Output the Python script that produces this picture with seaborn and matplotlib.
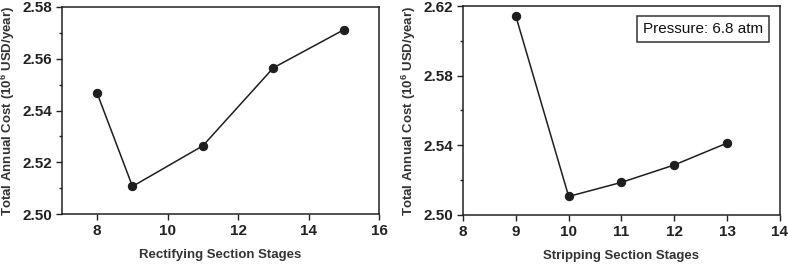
import numpy as np
import pandas as pd
import matplotlib
matplotlib.use('Agg')
import matplotlib.pyplot as plt
from matplotlib.ticker import MultipleLocator
import seaborn as sns

#-------------------------------------------------------
rect_stages=[8, 9, 11, 13, 15]
rect_tac=[2.5466, 2.5107, 2.5264, 2.5565, 2.5712]

strip_stages=[9, 10, 11, 12, 13]
strip_tac=[2.6142, 2.5106, 2.5187, 2.5287, 2.5413]

ylab='Total Annual Cost (10$^6$ USD/year)'
note='Pressure: 6.8 atm'

#-------------------------------------------------------
sns.set_theme(style='ticks')
plt.rcParams['font.family']=['Liberation Sans', 'DejaVu Sans']
plt.rcParams['mathtext.fontset']='custom'
plt.rcParams['mathtext.rm']='Liberation Sans:bold'
plt.rcParams['mathtext.default']='rm'

col='#1e1e1e'

def plt_panel(ax, x, y, xlab, xlim, xticks, ylim, yticks, yminor):
	df=pd.DataFrame({'x': x, 'y': y})
	sns.lineplot(data=df, x='x', y='y', ax=ax, color=col, lw=1.1,
		marker='o', markersize=6, markeredgecolor=col, markerfacecolor=col)
	ax.set_xlim(*xlim)
	ax.set_ylim(*ylim)
	ax.set_xticks(xticks)
	ax.set_yticks(yticks)
	ax.set_yticks(yminor, minor=True)
	ax.set_yticklabels([f'{v:.2f}' for v in yticks])
	ax.set_xticklabels([f'{v:d}' for v in xticks])
	ax.set_xlabel(xlab, fontsize=9.5, fontweight='bold', color='#333333', labelpad=8)
	ax.set_ylabel(ylab, fontsize=9.5, fontweight='bold', color='#333333')
	ax.yaxis.set_label_coords(-0.143, 0.5)
	ax.tick_params(axis='both', which='major', direction='out', length=4, width=1,
		labelsize=11, colors='#222222', pad=3)
	ax.tick_params(axis='y', which='minor', direction='out', length=2.5, width=1, colors='#222222')
	for lab in ax.get_xticklabels()+ax.get_yticklabels():
		lab.set_fontweight('bold')
	for sp in ax.spines.values():
		sp.set_color('#222222')
		sp.set_linewidth(1.1)
	return


fig=plt.figure(figsize=(7.88, 2.64), dpi=100)
ax1=fig.add_axes([0.0787, 0.189, 0.4023, 0.7845])
ax2=fig.add_axes([0.5876, 0.186, 0.4022, 0.791])

plt_panel(ax1, rect_stages, rect_tac, 'Rectifying Section Stages', (7, 16), [8, 10, 12, 14, 16],
	(2.50, 2.58), [2.50, 2.52, 2.54, 2.56, 2.58], [2.51, 2.53, 2.55, 2.57])

plt_panel(ax2, strip_stages, strip_tac, 'Stripping Section Stages', (8, 14), [8, 9, 10, 11, 12, 13, 14],
	(2.50, 2.62), [2.50, 2.54, 2.58, 2.62], [2.52, 2.56, 2.60])

ax2.text(0.946, 0.89, note, transform=ax2.transAxes, ha='right', va='center', fontsize=11,
	color='#111111', bbox=dict(boxstyle='square,pad=0.4', fc='white', ec='#333333', lw=1.1))

fig.savefig('out.png', dpi=100)
plt.close()
